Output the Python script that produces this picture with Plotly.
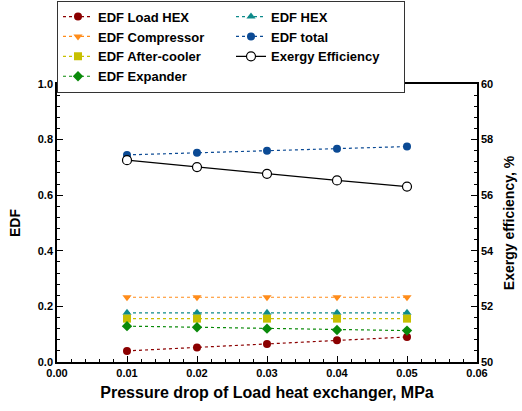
import plotly.graph_objects as go

x = [0.01, 0.02, 0.03, 0.04, 0.05]
edf_load_hex = [0.040, 0.052, 0.065, 0.078, 0.090]
edf_compressor = [0.233, 0.233, 0.233, 0.233, 0.233]
edf_after_cooler = [0.156, 0.156, 0.156, 0.156, 0.156]
edf_expander = [0.129, 0.125, 0.120, 0.115, 0.113]
edf_hex = [0.177, 0.177, 0.177, 0.177, 0.177]
edf_total = [0.745, 0.753, 0.760, 0.767, 0.775]
exergy_eff = [57.26, 57.01, 56.77, 56.53, 56.31]

fig = go.Figure()

def dotted(name, y, color, symbol):
    return go.Scatter(x=x, y=y, name="<b>" + name + "</b>", mode="lines+markers",
                      line=dict(color=color, width=1.2, dash="dot"),
                      marker=dict(color=color, symbol=symbol, size=8))

# order for row-major legend (2 columns)
fig.add_trace(dotted("EDF Load HEX", edf_load_hex, "#8B0000", "circle"))
fig.add_trace(dotted("EDF HEX", edf_hex, "#0E8A8A", "triangle-up"))
fig.add_trace(dotted("EDF Compressor", edf_compressor, "#FF8C1A", "triangle-down"))
fig.add_trace(dotted("EDF total", edf_total, "#0B4A94", "circle"))
fig.add_trace(dotted("EDF After-cooler", edf_after_cooler, "#C8C000", "square"))
fig.add_trace(go.Scatter(x=x, y=exergy_eff, name="<b>Exergy Efficiency</b>", mode="lines+markers",
                         yaxis="y2",
                         line=dict(color="black", width=1.2),
                         marker=dict(color="white", symbol="circle", size=9,
                                     line=dict(color="black", width=1.2))))
fig.add_trace(dotted("EDF Expander", edf_expander, "#0A8A0A", "diamond"))

fam = "Liberation Sans, Arial, sans-serif"
font_tick = dict(family=fam, size=11, color="black")
font_title = dict(family=fam, size=14, color="black")

fig.update_layout(
    width=522, height=411,
    margin=dict(l=57, r=45, t=84, b=49, autoexpand=False),
    paper_bgcolor="white", plot_bgcolor="white",
    font=dict(family=fam, color="black"),
    showlegend=True,
    legend=dict(orientation="h", x=0, y=1.30, xanchor="left", yanchor="top",
                xref="paper", yref="paper",
                entrywidth=128, entrywidthmode="pixels",
                itemwidth=30, tracegroupgap=0,
                bgcolor="white", bordercolor="#333", borderwidth=1,
                font=dict(family=fam, size=13, color="black")),
    xaxis=dict(range=[0, 0.06], dtick=0.01, tickformat=".2f",
               tickprefix="<b>", ticksuffix="</b>",
               showgrid=False, zeroline=False, showline=True, linecolor="black", linewidth=1.5,
               mirror=True, ticks="inside", ticklen=6, tickcolor="black",
               minor=dict(dtick=0.002, ticks="inside", ticklen=3, tickcolor="black"),
               tickfont=font_tick,
               title=dict(text="<b>Pressure drop of Load heat exchanger, MPa</b>",
                          font=dict(family=fam, size=16, color="black"), standoff=9)),
    yaxis=dict(range=[0, 1.0], dtick=0.2, tickformat=".1f",
               tickprefix="<b>", ticksuffix="</b>",
               showgrid=False, zeroline=False, showline=True, linecolor="black", linewidth=1.5,
               ticks="inside", ticklen=6, tickcolor="black",
               minor=dict(dtick=0.04, ticks="inside", ticklen=3, tickcolor="black"),
               tickfont=font_tick,
               title=dict(text="<b>EDF</b>", font=font_title, standoff=14)),
    yaxis2=dict(range=[50, 60], dtick=2, overlaying="y", side="right",
                tickprefix="<b>", ticksuffix="</b>",
                showgrid=False, zeroline=False, showline=True, linecolor="black", linewidth=1.5,
                ticks="inside", ticklen=6, tickcolor="black",
                minor=dict(dtick=0.4, ticks="inside", ticklen=3, tickcolor="black"),
                tickfont=font_tick,
                title=dict(text="<b>Exergy efficiency, %</b>", font=font_title, standoff=11)),
)

fig.write_html("out.html", config={"displayModeBar": False},
               post_script="document.body.style.margin='0';")
